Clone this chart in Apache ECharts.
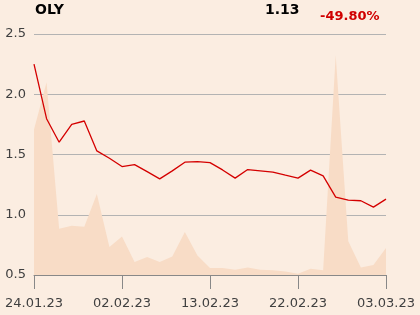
<!DOCTYPE html>
<html>
<head>
<meta charset="utf-8">
<script src="https://cdn.jsdelivr.net/npm/echarts@6/dist/echarts.min.js"></script>
<style>
html,body{margin:0;padding:0;background:#fbede1;}
#c{width:420px;height:315px;}
</style>
</head>
<body>
<div id="c"></div>
<script>
const dates = ["24.01.23","25.01.23","26.01.23","27.01.23","30.01.23","31.01.23","01.02.23","02.02.23","03.02.23","06.02.23","07.02.23","08.02.23","09.02.23","10.02.23","13.02.23","14.02.23","15.02.23","16.02.23","17.02.23","20.02.23","21.02.23","22.02.23","23.02.23","24.02.23","27.02.23","28.02.23","01.03.23","02.03.23","03.03.23"];
const prices = [2.25,1.797,1.602,1.751,1.778,1.530,1.469,1.400,1.416,1.358,1.298,1.364,1.436,1.441,1.433,1.372,1.304,1.375,1.364,1.353,1.328,1.304,1.370,1.323,1.146,1.121,1.116,1.063,1.13];
const volumes = [151,200,48,51,50,84,29,40,13.5,18.6,13.5,19.3,44.5,20.3,7.3,7.3,5.5,7.9,5.5,4.8,3.7,1.3,6.5,4.8,228,35,7.9,10.4,28];
const yTicks = [0.5,1.0,1.5,2.0,2.5];
const ticker = "OLY";
const lastPrice = "1.13";
const change = "-49.80%";

const chart = echarts.init(document.getElementById('c'), null, {renderer:'canvas'});
chart.setOption({
  backgroundColor: '#fbede1',
  animation: false,
  grid: {left:34, right:34, top:34, bottom:40},
  graphic: [
    {type:'text', left:35, top:3, style:{text:ticker, font:'bold 14px "DejaVu Sans"', fill:'#000'}},
    {type:'text', left:265, top:3, style:{text:lastPrice, font:'bold 14px "DejaVu Sans"', fill:'#000'}},
    {type:'text', left:320, top:10, style:{text:change, font:'bold 13px "DejaVu Sans"', fill:'#d00000'}}
  ],
  xAxis: {
    type:'category', data:dates, boundaryGap:false,
    axisLine:{show:true, lineStyle:{color:'#888', width:1}},
    axisTick:{show:true, interval:6, length:14, lineStyle:{color:'#888'}},
    axisLabel:{interval:6, color:'#404040', fontSize:13, fontFamily:'DejaVu Sans', margin:22, showMaxLabel:true},
    splitLine:{show:false}
  },
  yAxis: [
    {type:'value', min:yTicks[0], max:yTicks[yTicks.length-1], interval:0.5,
     axisLine:{show:false}, axisTick:{show:false},
     axisLabel:{color:'#404040', fontSize:13, fontFamily:'DejaVu Sans', margin:8, formatter:v=>v.toFixed(1)},
     splitLine:{show:true, lineStyle:{color:'#b3b3b3', width:1}}},
    {type:'value', min:0, max:250, show:false, splitLine:{show:false}}
  ],
  series: [
    {type:'line', yAxisIndex:1, data:volumes, symbol:'none', lineStyle:{width:0},
     areaStyle:{color:'#f8dcc6', opacity:1}, z:1},
    {type:'line', yAxisIndex:0, data:prices, symbol:'none',
     lineStyle:{color:'#d40000', width:1.3}, z:3}
  ]
});
</script>
</body>
</html>
